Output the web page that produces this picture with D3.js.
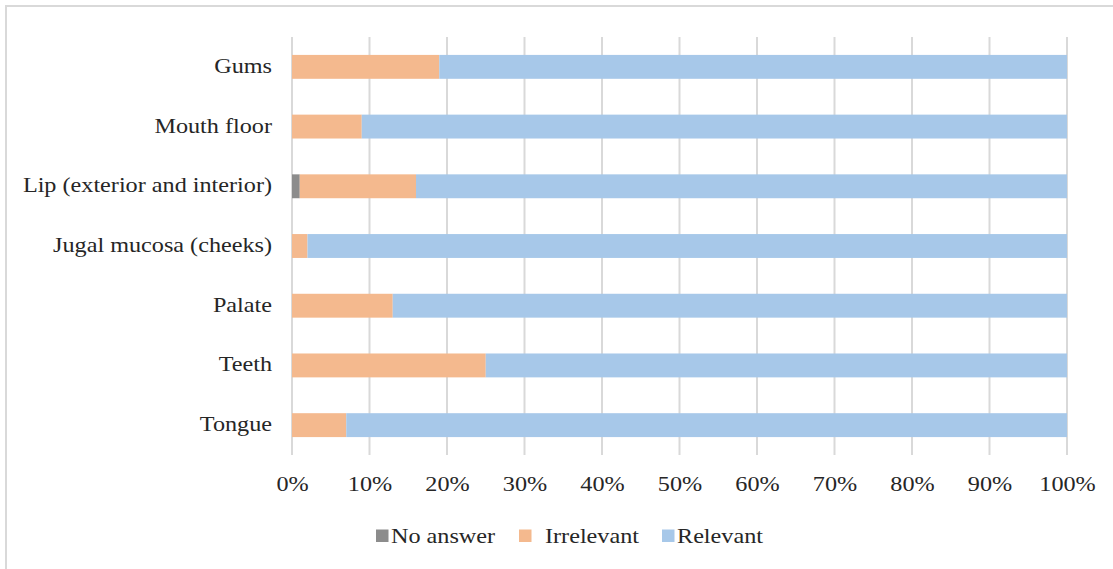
<!DOCTYPE html>
<html>
<head>
<meta charset="utf-8">
<script src="https://cdn.jsdelivr.net/npm/d3@7/dist/d3.min.js"></script>
<style>
  html, body { margin: 0; padding: 0; background: #fff; }
  svg { display: block; }
  text { font-family: "Liberation Serif", "Times New Roman", serif; fill: #262626; }
</style>
</head>
<body>
<svg id="chart" width="1113" height="569"></svg>
<script>
// Oral regions, drawn top to bottom
const categories = ["Gums", "Mouth floor", "Lip (exterior and interior)", "Jugal mucosa (cheeks)", "Palate", "Teeth", "Tongue"];
const seriesNames = ["No answer", "Irrelevant", "Relevant"];
const noAnswer   = [0, 0, 1, 0, 0, 0, 0];
const irrelevant = [19, 9, 15, 2, 13, 25, 7];
const relevant   = [81, 91, 84, 98, 87, 75, 93];
const tickValues = [0, 0.1, 0.2, 0.3, 0.4, 0.5, 0.6, 0.7, 0.8, 0.9, 1];
const colors = ["#8c8c8c", "#f4b98e", "#a7c8e9"];

const FONT = '"Liberation Serif", "Times New Roman", serif';
const FONT_SIZE = "22px";
const STRETCH = 1.1; // slightly wide lettering

const svg = d3.select("#chart");

// chart frame (light gray border)
svg.append("rect")
  .attr("x", 6).attr("y", 6)
  .attr("width", 1120).attr("height", 580)
  .attr("fill", "none").attr("stroke", "#d9d9d9").attr("stroke-width", 2);

const plot = { left: 292, right: 1067, top: 37, bottom: 455 };

const x = d3.scaleLinear().domain([0, 1]).range([plot.left, plot.right]);
const y = d3.scaleBand().domain(categories).range([plot.top, plot.bottom]).paddingInner(0.6).paddingOuter(0.3);

// vertical gridlines
svg.append("g")
  .selectAll("line")
  .data(tickValues)
  .join("line")
  .attr("x1", d => x(d)).attr("x2", d => x(d))
  .attr("y1", plot.top).attr("y2", plot.bottom)
  .attr("stroke", "#d9d9d9").attr("stroke-width", 2);

// stacked rows as percentages of each total
const rows = categories.map((c, i) => {
  const vals = [noAnswer[i], irrelevant[i], relevant[i]];
  const total = d3.sum(vals);
  return { category: c, "No answer": vals[0] / total, "Irrelevant": vals[1] / total, "Relevant": vals[2] / total };
});
const stacked = d3.stack().keys(seriesNames)(rows);

svg.append("g")
  .selectAll("g")
  .data(stacked)
  .join("g")
  .attr("fill", (d, i) => colors[i])
  .selectAll("rect")
  .data(d => d)
  .join("rect")
  .attr("x", d => x(d[0]))
  .attr("width", d => Math.max(0, x(d[1]) - x(d[0])))
  .attr("y", d => y(d.data.category))
  .attr("height", y.bandwidth());

// category axis labels
const yAxis = d3.axisLeft(y).tickSize(0).tickPadding(20);
const yg = svg.append("g").attr("transform", `translate(${plot.left},0)`).call(yAxis);
yg.select(".domain").remove();
yg.selectAll("text")
  .attr("x", 0).attr("dy", null).attr("y", 0)
  .attr("transform", `translate(-20,6) scale(${STRETCH},1)`)
  .style("font-size", FONT_SIZE).style("font-family", FONT).attr("fill", "#262626");

// percent axis labels
const xAxis = d3.axisBottom(x).tickValues(tickValues).tickFormat(d3.format(".0%")).tickSize(0);
const xg = svg.append("g").attr("transform", `translate(0,${plot.bottom})`).call(xAxis);
xg.select(".domain").remove();
xg.selectAll("text")
  .attr("y", 0).attr("dy", null)
  .attr("transform", `translate(0,36) scale(${STRETCH},1)`)
  .style("font-size", FONT_SIZE).style("font-family", FONT).attr("fill", "#262626");

// legend
const legendX = [376, 519, 662];
const legend = svg.append("g")
  .selectAll("g")
  .data(seriesNames)
  .join("g")
  .attr("transform", (d, i) => `translate(${legendX[i]},542.5)`);
legend.append("rect")
  .attr("x", 0).attr("y", -13).attr("width", 12.5).attr("height", 12.5)
  .attr("fill", (d, i) => colors[i]);
legend.append("text")
  .attr("transform", (d, i) => `translate(${i === 1 ? 26 : 15},0) scale(${STRETCH},1)`)
  .style("font-size", FONT_SIZE)
  .text(d => d);
</script>
</body>
</html>
